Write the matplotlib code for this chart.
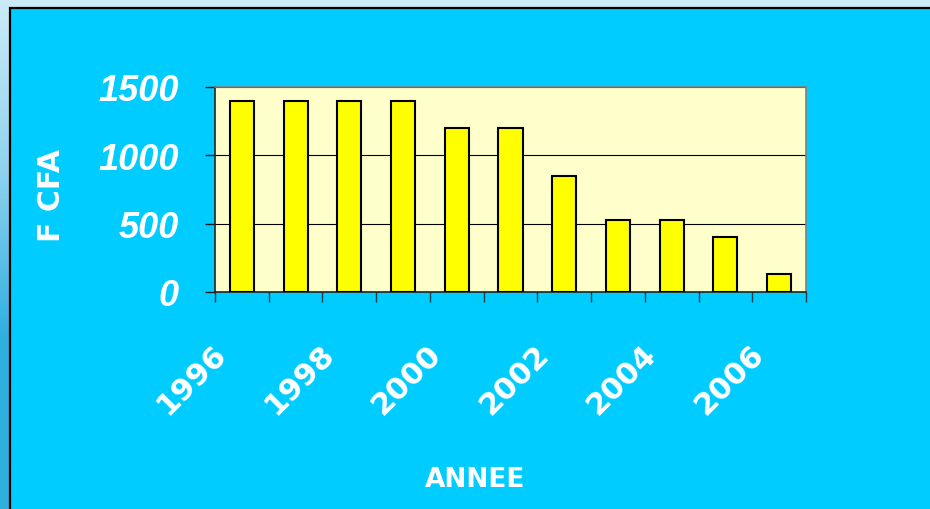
import numpy as np
import matplotlib
matplotlib.use("Agg")
import matplotlib.pyplot as plt
from matplotlib.transforms import offset_copy
from matplotlib.patches import Rectangle
from matplotlib.colors import LinearSegmentedColormap

# ---- data ----
years = [1996, 1997, 1998, 1999, 2000, 2001, 2002, 2003, 2004, 2005, 2006]
values = [1400, 1400, 1400, 1400, 1200, 1200, 850, 530, 530, 400, 130]
label_years = [1996, 1998, 2000, 2002, 2004, 2006]
y_ticks = [0, 500, 1000, 1500]
y_title = "F CFA"
x_title = "ANNEE"

W, H = 930, 510
fig = plt.figure(figsize=(W / 100, H / 100), dpi=100)

# background gradient outside the frame
bg = fig.add_axes([0, 0, 1, 1])
bg.set_axis_off()
cmap = LinearSegmentedColormap.from_list("bgc", ["#CBEBF7", "#8FD2EE", "#2FAFDF", "#2FAFDF"])
grad = np.linspace(0, 1, 256).reshape(-1, 1)
bg.imshow(grad, cmap=cmap, extent=[0, 1, 0, 1], aspect="auto", origin="upper",
          transform=bg.transAxes)
bg.set_xlim(0, 1)
bg.set_ylim(0, 1)
frame = Rectangle((10 / W, -0.05), 1.05, 1 - 9 / H + 0.05, transform=fig.transFigure,
                  facecolor="#00CCFF", edgecolor="black", linewidth=1.6, clip_on=False)
bg.add_patch(frame)

# main plot
ax = fig.add_axes([215 / W, 1 - 293 / H, 591 / W, 205 / H])
ax.set_facecolor("#FFFFCC")
x = np.arange(len(years))
ax.bar(x, values, width=0.45, color="#FFFF00", edgecolor="black", linewidth=1.5, zorder=3)
ax.set_xlim(-0.5, len(years) - 0.5)
ax.set_ylim(0, 1500)

ax.set_yticks(y_ticks)
ax.set_yticklabels([str(v) for v in y_ticks], family="Liberation Sans", fontweight="bold",
                   fontstyle="italic", fontsize=26, color="white")
ax.tick_params(axis="y", direction="out", length=7.2, width=1, color="#1a1a1a", pad=19)
ax.set_xticks(np.arange(len(years) + 1) - 0.5)
ax.set_xticklabels([])
ax.tick_params(axis="x", direction="out", length=7.2, width=1, color="#1a3a48")

ax.yaxis.grid(True, color="black", linewidth=0.8, zorder=1)
ax.set_axisbelow(True)
for s in ["left", "bottom"]:
    ax.spines[s].set_color("#222222")
    ax.spines[s].set_linewidth(1.2)
for s in ["top", "right"]:
    ax.spines[s].set_color("#808080")
    ax.spines[s].set_linewidth(1.2)

trans = offset_copy(ax.get_xaxis_transform(), fig=fig, x=-50, y=-87, units="dots")
for yr in label_years:
    i = years.index(yr)
    ax.text(i, 0, str(yr), transform=trans, rotation=45, rotation_mode="anchor",
            ha="center", va="center", fontsize=22, fontweight="bold", color="white",
            family="DejaVu Sans", clip_on=False)

fig.text(51 / W, 1 - 196 / H, y_title, rotation=90, ha="center", va="center",
         fontsize=21.5, fontweight="bold", color="white", family="DejaVu Sans")
fig.text(475 / W, 1 - 480 / H, x_title, ha="center", va="center",
         fontsize=19, fontweight="bold", color="white", family="DejaVu Sans")

fig.savefig("out.png", dpi=100)
